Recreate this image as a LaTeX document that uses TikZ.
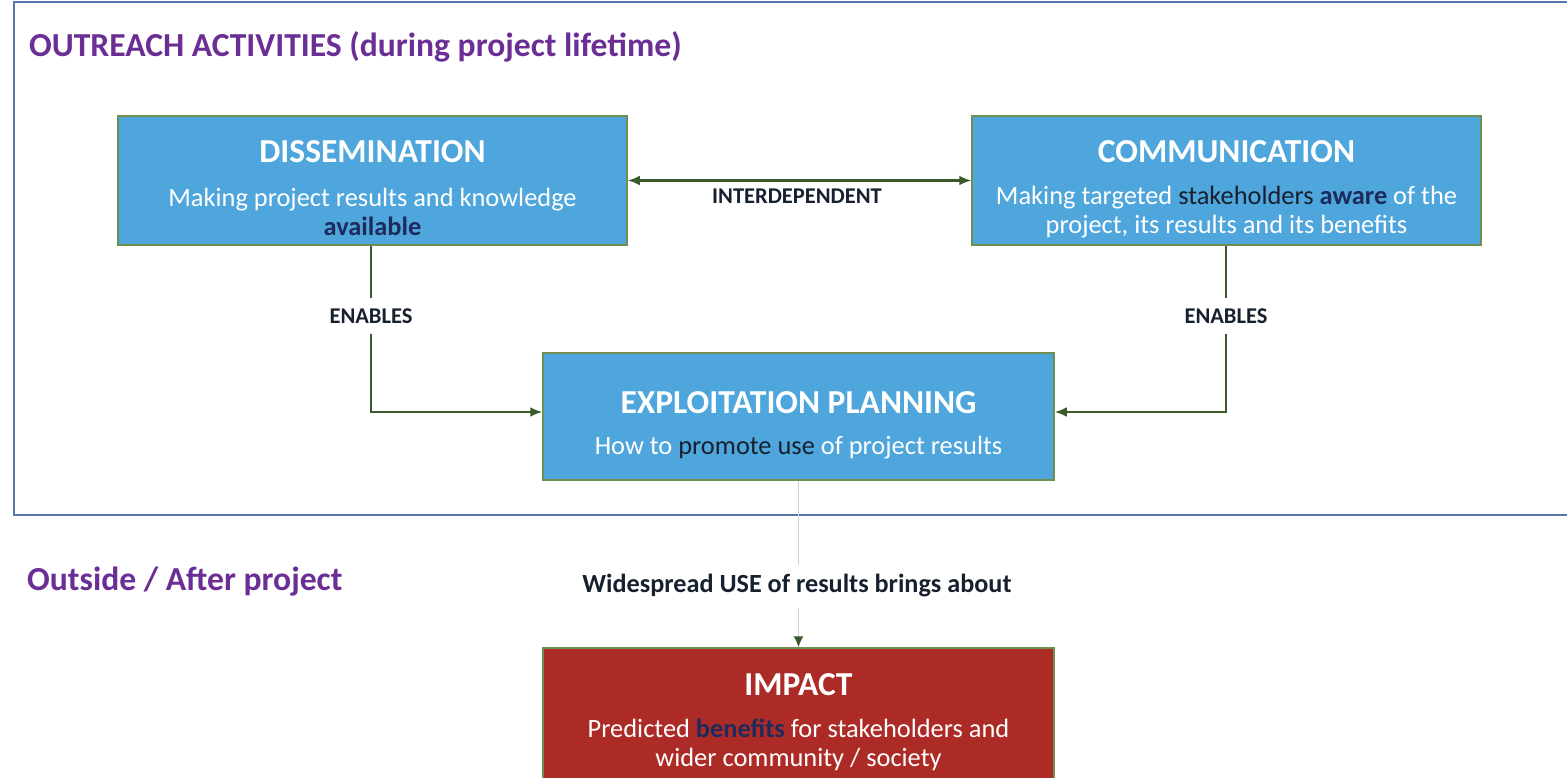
\documentclass[tikz,border=0pt]{standalone}
\usepackage{fontspec}
\setmainfont{Carlito}
\usetikzlibrary{arrows.meta}
\definecolor{boxblue}{HTML}{4EA6DC}
\definecolor{boxred}{HTML}{AD2B27}
\definecolor{boxedge}{HTML}{6E8F50}
\definecolor{arrowgreen}{HTML}{3A5A2A}
\definecolor{framecol}{HTML}{5576B0}
\definecolor{headpurple}{HTML}{6B2E95}
\definecolor{navy}{HTML}{1E2A5C}
\definecolor{darktxt}{HTML}{17202E}
\definecolor{lightline}{HTML}{D0D0D0}
\tikzset{
  bluebox/.style={draw=boxedge, line width=1.5pt, fill=boxblue, inner sep=0pt},
  redbox/.style={draw=boxedge, line width=1.5pt, fill=boxred, inner sep=0pt},
  boxtitle/.style={text=white, font=\fontsize{33.5}{36}\selectfont\bfseries, inner sep=0pt},
  boxsub/.style={text=white, font=\fontsize{26.4}{29.5}\selectfont, align=center, inner sep=0pt},
  heading/.style={text=headpurple, font=\fontsize{33.6}{38}\selectfont\bfseries, anchor=west, inner sep=0pt},
  lbl/.style={text=darktxt, font=\fontsize{22.5}{26}\selectfont\bfseries, inner sep=0pt},
  conn/.style={draw=arrowgreen, line width=2.8pt},
  tip/.style={-{Latex[length=12pt,width=10pt]}},
}
\begin{document}
\begin{tikzpicture}[x=1pt,y=-1pt]
\useasboundingbox (0,0) rectangle (1567,778);
\clip (0,0) rectangle (1567,778);
\fill[white] (0,0) rectangle (1567,778);
% frame
\draw[framecol, line width=2pt] (1580,2) -- (14,2) -- (14,515) -- (1580,515);
\node[heading] (h1) at (29,47) {OUTREACH ACTIVITIES (during project lifetime)};
\node[heading] (h2) at (27,582) {Outside / After project};
% boxes
\node[bluebox, minimum width=509pt, minimum height=129pt] (dis) at (372.5,180.5) {};
\node[bluebox, minimum width=509pt, minimum height=129pt] (com) at (1226.5,180.5) {};
\node[bluebox, minimum width=511pt, minimum height=127pt] (exp) at (798.5,416.5) {};
\node[redbox, minimum width=511pt, minimum height=180pt] (imp) at (798.5,738) {};
% box texts
\node[boxtitle] (dist) at (372.5,152) {DISSEMINATION};
\node[boxsub] (diss) at (372.5,212) {Making project results and knowledge\\\textcolor{navy}{\bfseries available}};
\node[boxtitle] (comt) at (1226.5,152) {COMMUNICATION};
\node[boxsub] (coms) at (1226.5,212) {Making targeted \textcolor{darktxt}{stakeholders} \textcolor{navy}{\bfseries aware} of the\\project, its results and its benefits};
\node[boxtitle] (expt) at (798.5,403) {EXPLOITATION PLANNING};
\node[boxsub] (exps) at (798.5,448) {How to \textcolor{darktxt}{promote use} of project results};
\node[boxtitle] (impt) at (798.5,685) {IMPACT};
\node[boxsub] (imps) at (798.5,745) {Predicted \textcolor{navy}{\bfseries benefits} for stakeholders and\\wider community / society};
% connectors
\node[lbl] (inter) at (797,196) {INTERDEPENDENT};
\draw[conn, {Latex[length=12pt,width=10pt]}-{Latex[length=12pt,width=10pt]}] (dis.east) -- (com.west);
\node[lbl, inner sep=10pt] (en1) at (371,316) {ENABLES};
\node[lbl, inner sep=10pt] (en2) at (1226,316) {ENABLES};
\coordinate (c1) at (371,412);
\coordinate (c2) at (1226,412);
\draw[conn] (en1 |- dis.south) -- (en1.north);
\draw[conn, tip] (en1.south) -- (c1) -- (c1 -| exp.west);
\draw[conn] (en2 |- com.south) -- (en2.north);
\draw[conn, tip] (en2.south) -- (c2) -- (c2 -| exp.east);
\node[lbl, font=\fontsize{26.2}{30}\selectfont\bfseries, inner sep=0pt] (wide) at (797,586) {Widespread USE of results brings about};
\coordinate (w1) at (798.5,565);
\coordinate (w2) at (798.5,608);
\draw[lightline, line width=1.4pt] (exp.south) -- (w1);
\draw[lightline, line width=1.4pt, -{Latex[length=11pt,width=10pt,color=arrowgreen]}] (w2) -- (imp.north);
\end{tikzpicture}
\end{document}
